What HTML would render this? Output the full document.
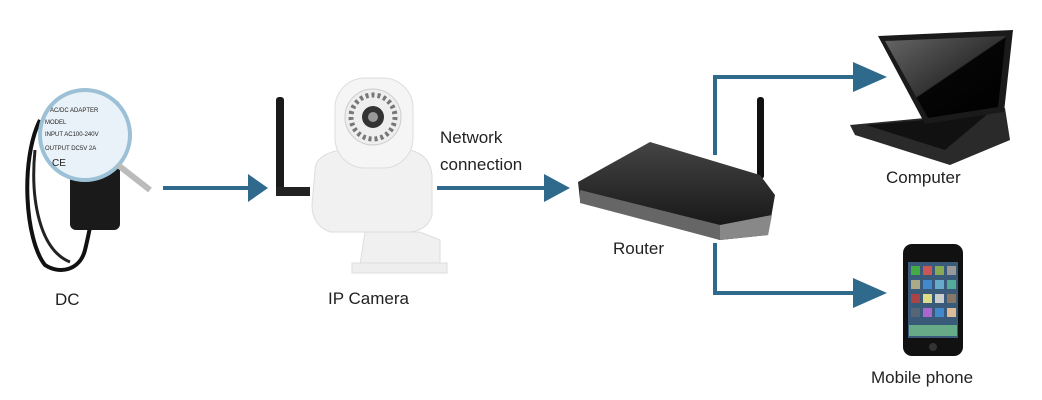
<!DOCTYPE html>
<html><head><meta charset="utf-8"><style>
html,body{margin:0;padding:0;background:#fff}
svg{display:block}
text{font-family:"Liberation Sans",Arial,sans-serif;fill:#222}
</style></head><body>
<svg width="1042" height="400" viewBox="0 0 1042 400" xmlns="http://www.w3.org/2000/svg">
<defs>
<linearGradient id="rg" x1="0" y1="0" x2="0" y2="1"><stop offset="0" stop-color="#444"/><stop offset="1" stop-color="#111"/></linearGradient>
<linearGradient id="scr" x1="0" y1="0" x2="1" y2="1"><stop offset="0" stop-color="#666"/><stop offset="0.5" stop-color="#333"/><stop offset="0.51" stop-color="#050505"/><stop offset="1" stop-color="#000"/></linearGradient>
</defs>
<!-- connectors -->
<g stroke="#2f6a8c" stroke-width="4" fill="none">
<line x1="163" y1="188" x2="250" y2="188"/>
<line x1="437" y1="188" x2="546" y2="188"/>
<polyline points="715,155 715,77 855,77"/>
<polyline points="715,243 715,293 855,293"/>
</g>
<g fill="#2f6a8c">
<polygon points="248,174 268,188 248,202"/>
<polygon points="544,174 570,188 544,202"/>
<polygon points="853,62 887,77 853,92"/>
<polygon points="853,278 887,293 853,308"/>
</g>
<!-- DC adapter -->
<g>
<path d="M40 120 C20 160 25 240 45 265 C60 275 80 270 85 250 C90 230 95 200 100 180" stroke="#111" stroke-width="4" fill="none"/>
<path d="M35 150 C30 200 40 250 70 262" stroke="#222" stroke-width="3" fill="none"/>
<rect x="70" y="100" width="50" height="130" rx="6" fill="#1a1a1a"/>
<circle cx="85" cy="135" r="45" fill="#e9f2f8" stroke="#9cc0d6" stroke-width="4"/>
<line x1="118" y1="165" x2="150" y2="190" stroke="#bbb" stroke-width="6"/>
<g font-size="6" fill="#333"><text x="50" y="112">AC/DC ADAPTER</text><text x="45" y="124">MODEL</text><text x="45" y="136">INPUT AC100-240V</text><text x="45" y="150">OUTPUT DC5V 2A</text><text x="52" y="166" font-size="10">CE</text></g>
</g>
<text x="55" y="305" font-size="17">DC</text>
<!-- IP camera -->
<g>
<rect x="276" y="97" width="8" height="98" rx="3" fill="#1a1a1a"/>
<rect x="276" y="187" width="34" height="9" fill="#222"/>
<path d="M315 170 Q315 155 340 150 L410 150 Q430 155 432 175 L432 215 Q428 230 410 232 L330 232 Q312 225 312 205 Z" fill="#f1f1f1" stroke="#ddd"/>
<rect x="335" y="78" width="78" height="90" rx="30" fill="#f5f5f5" stroke="#ddd"/>
<circle cx="373" cy="117" r="28" fill="#eee" stroke="#ccc"/>
<circle cx="373" cy="117" r="22" fill="none" stroke="#777" stroke-width="5" stroke-dasharray="3 3"/>
<circle cx="373" cy="117" r="11" fill="#333"/>
<circle cx="373" cy="117" r="5" fill="#999"/>
<path d="M365 232 L360 265 L440 265 L440 240 L420 232 Z" fill="#f0f0f0" stroke="#ddd"/>
<rect x="352" y="263" width="95" height="10" fill="#eee" stroke="#ddd"/>
</g>
<text x="328" y="304" font-size="17">IP Camera</text>
<text x="440" y="143" font-size="17">Network</text>
<text x="440" y="170" font-size="17">connection</text>
<!-- Router -->
<g>
<rect x="757" y="97" width="7" height="82" rx="3" fill="#111"/>
<path d="M578 182 L650 142 L760 175 L775 195 L768 235 L720 240 L580 200 Z" fill="url(#rg)"/>
<path d="M580 190 L720 225 L720 240 L580 203 Z" fill="#666"/>
<path d="M720 225 L772 215 L768 235 L720 240 Z" fill="#888"/>
</g>
<text x="613" y="254" font-size="17">Router</text>
<!-- Laptop -->
<g>
<path d="M850 125 L925 118 L1005 108 L1010 140 L950 165 L855 135 Z" fill="#2a2a2a"/>
<path d="M866 125 L925 120 L990 112 L945 150 Z" fill="#111"/>
<path d="M878 36 L1013 30 L1004 112 L925 124 Z" fill="#1a1a1a"/>
<path d="M885 41 L1006 36 L998 107 L928 118 Z" fill="url(#scr)"/>
</g>
<text x="886" y="183" font-size="17">Computer</text>
<!-- Phone -->
<g>
<rect x="903" y="244" width="60" height="112" rx="9" fill="#111"/>
<rect x="908" y="262" width="50" height="76" fill="#3a5a7a"/>
<g>
<rect x="911" y="266" width="9" height="9" fill="#4a4"/><rect x="923" y="266" width="9" height="9" fill="#c55"/><rect x="935" y="266" width="9" height="9" fill="#8a5"/><rect x="947" y="266" width="9" height="9" fill="#999"/>
<rect x="911" y="280" width="9" height="9" fill="#aa8"/><rect x="923" y="280" width="9" height="9" fill="#48c"/><rect x="935" y="280" width="9" height="9" fill="#6ac"/><rect x="947" y="280" width="9" height="9" fill="#5a9"/>
<rect x="911" y="294" width="9" height="9" fill="#a44"/><rect x="923" y="294" width="9" height="9" fill="#dd8"/><rect x="935" y="294" width="9" height="9" fill="#ccc"/><rect x="947" y="294" width="9" height="9" fill="#876"/>
<rect x="911" y="308" width="9" height="9" fill="#567"/><rect x="923" y="308" width="9" height="9" fill="#a6c"/><rect x="935" y="308" width="9" height="9" fill="#48c"/><rect x="947" y="308" width="9" height="9" fill="#db9"/>
<rect x="909" y="325" width="48" height="11" fill="#6a8"/>
</g>
<circle cx="933" cy="347" r="4" fill="#333"/>
</g>
<text x="871" y="383" font-size="17">Mobile phone</text>
</svg>
</body></html>
